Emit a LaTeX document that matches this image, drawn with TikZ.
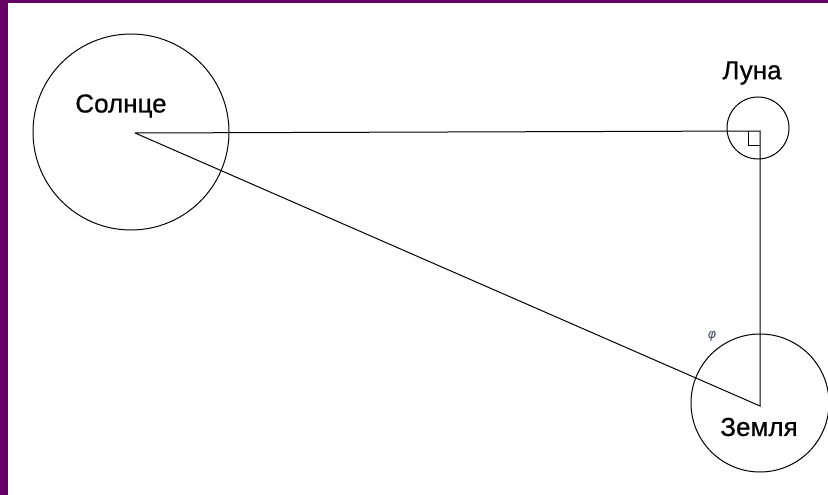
\documentclass[tikz,border=0pt]{standalone}
\usepackage{fontspec}
\setmainfont{Liberation Sans}
\newfontfamily\lblfont[FakeBold=0.7]{Liberation Sans}
\newfontfamily\symfont{DejaVu Sans}
\definecolor{frame}{HTML}{660066}
\definecolor{phicol}{HTML}{3F4F66}
\begin{document}
\begin{tikzpicture}[x=1pt,y=-1pt,
  body/.style={draw=black,line width=1pt,circle,inner sep=0pt},
  conn/.style={draw=black,line width=1pt},
  lbl/.style={font=\lblfont\fontsize{26}{26}\selectfont,inner sep=0pt,text=black}]
\useasboundingbox (0,0) rectangle (828,495);
\fill[white] (0,0) rectangle (828,495);
\fill[frame] (0,0) rectangle (8,495);
\fill[frame] (0,0) rectangle (828,3);
% bodies
\node[body,minimum size=196pt] (sun) at (131,132) {};
\node[body,minimum size=62pt] (moon) at (758,128) {};
\node[body,minimum size=138pt] (earth) at (760,403) {};
% key points
\coordinate (S) at (135,133);
\coordinate (M) at (760,131);
\coordinate (E) at (760,406);
% connectors
\draw[conn] (S) -- (M) -- (E) -- (S);
% right angle mark
\draw[conn] ([xshift=-12pt]M) |- ([yshift=-14pt]M);
% labels
\node[lbl] (tsun) at (121,106) {Солнце};
\node[lbl] (tmoon) at (752,73) {Луна};
\node[lbl] (tearth) at (759,427) {Земля};
\node[inner sep=0pt,text=phicol,font=\symfont\itshape\fontsize{13}{13}\selectfont] (phi) at (712,336) {φ};
\end{tikzpicture}
\end{document}
